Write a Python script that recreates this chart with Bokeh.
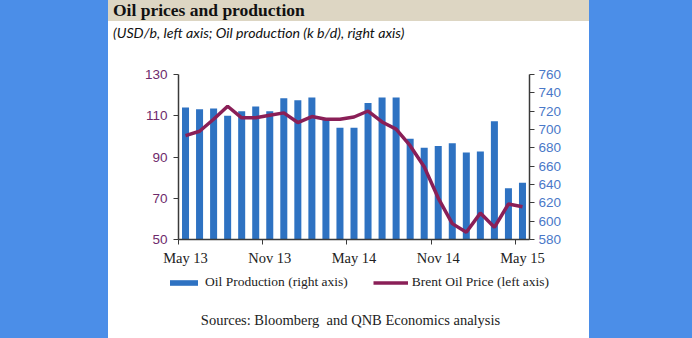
from bokeh.plotting import figure
from bokeh.models import (Range1d, LinearAxis, FixedTicker, Legend, LegendItem, Div)
from bokeh.layouts import row, column
from bokeh.embed import file_html
from bokeh.resources import INLINE

# ---------------- data ----------------
months = ["May 13", "Jun 13", "Jul 13", "Aug 13", "Sep 13", "Oct 13", "Nov 13",
          "Dec 13", "Jan 14", "Feb 14", "Mar 14", "Apr 14", "May 14", "Jun 14",
          "Jul 14", "Aug 14", "Sep 14", "Oct 14", "Nov 14", "Dec 14", "Jan 15",
          "Feb 15", "Mar 15", "Apr 15", "May 15"]
production = [724, 722, 723, 715, 720, 725, 720, 734, 732, 735, 712, 702, 702,
              729, 735, 735, 690, 680, 682, 685, 675, 676, 709, 636, 642]
brent = [100.4, 102.5, 108.3, 114.6, 109.0, 109.0, 110.2, 111.4, 106.7, 109.6,
         108.3, 108.3, 109.4, 112.3, 107.0, 103.5, 95.5, 85.3, 70.1, 57.7,
         53.5, 62.8, 55.9, 67.2, 65.9]
tick_months = ["May 13", "Nov 13", "May 14", "Nov 14", "May 15"]
left_ticks = [50, 70, 90, 110, 130]
right_ticks = [580, 600, 620, 640, 660, 680, 700, 720, 740, 760]

title_text = "Oil prices and production"
subtitle_text = "(USD/b, left axis; Oil production (k b/d), right axis)"
source_text = "Sources: Bloomberg&nbsp; and QNB Economics analysis"
prod_label = "Oil Production (right axis)"
brent_label = "Brent Oil Price (left axis)"

# ---------------- styles ----------------
BLUE_BG = "#4B8EE8"
BEIGE = "#DDD6C3"
BAR = "#2E72C2"
LINE = "#8A1F57"
LEFT_TXT = "#6E2A6C"
RIGHT_TXT = "#4A78C8"
AXIS = "#3A3A3A"

x = list(range(len(months)))
tick_pos = [months.index(m) for m in tick_months]

p = figure(width=481, height=223, output_backend="svg", toolbar_location=None,
           x_range=Range1d(-0.5, len(months) - 0.5), y_range=Range1d(50, 130),
           min_border_left=70, min_border_right=60, min_border_top=29,
           min_border_bottom=28)
p.outline_line_color = None
p.grid.grid_line_color = None
p.background_fill_color = "white"
p.border_fill_color = "white"

p.extra_y_ranges = {"prod": Range1d(580, 760)}

bars = p.vbar(x=x, top=production, bottom=580, width=0.5, y_range_name="prod",
              fill_color=BAR, line_color=None)
ln = p.line(x, brent, line_width=3.5, line_color=LINE)

# x axis
xa = p.xaxis[0]
xa.ticker = FixedTicker(ticks=tick_pos, minor_ticks=[t - 0.5 for t in tick_pos])
xa.major_label_overrides = {i: m for i, m in zip(tick_pos, tick_months)}
xa.major_tick_line_color = None
xa.major_tick_out = 4
xa.major_label_standoff = 5
xa.minor_tick_in = 0
xa.minor_tick_out = 5
xa.minor_tick_line_color = AXIS
xa.axis_line_color = AXIS
xa.axis_line_width = 1.5
xa.major_label_text_font = "Liberation Serif"
xa.major_label_text_font_size = "14.5px"
xa.major_label_text_color = "#222222"

# left axis
ya = p.yaxis[0]
ya.ticker = FixedTicker(ticks=left_ticks)
ya.minor_tick_line_color = None
ya.major_tick_in = 0
ya.major_tick_out = 5
ya.major_tick_line_color = AXIS
ya.axis_line_color = AXIS
ya.axis_line_width = 1.5
ya.major_label_text_font = "Liberation Sans"
ya.major_label_text_font_size = "13.5px"
ya.major_label_text_color = LEFT_TXT
ya.major_label_standoff = 6

# right axis
ra = LinearAxis(y_range_name="prod", ticker=FixedTicker(ticks=right_ticks))
ra.minor_tick_line_color = None
ra.major_tick_in = 0
ra.major_tick_out = 5
ra.major_tick_line_color = AXIS
ra.axis_line_color = AXIS
ra.axis_line_width = 1.5
ra.major_label_text_font = "Liberation Sans"
ra.major_label_text_font_size = "13.5px"
ra.major_label_text_color = RIGHT_TXT
ra.major_label_standoff = 4
p.add_layout(ra, "right")

# legend strip: its own small figure; swatch renderers carry the same series
# but are hidden, so only their legend entries show
pl = figure(width=481, height=32, output_backend="svg", toolbar_location=None,
            x_range=Range1d(-0.5, len(months) - 0.5), y_range=Range1d(0, 1),
            x_axis_location=None, y_axis_location=None,
            min_border_left=0, min_border_right=0, min_border_top=0,
            min_border_bottom=0)
if "frame_align" in pl.properties():
    pl.frame_align = False
pl.outline_line_color = None
pl.grid.grid_line_color = None
pl.border_fill_color = "white"
sw_bar = pl.vbar(x=x, top=production, width=0.5, fill_color=BAR, line_color=None,
                 visible=False)
sw_line = pl.line(x, brent, line_width=3.5, line_color=LINE, visible=False)
lg = Legend(items=[LegendItem(label=prod_label, renderers=[sw_bar]),
                   LegendItem(label=brent_label, renderers=[sw_line])],
            orientation="horizontal", location=(58, 10), click_policy="none",
            border_line_color=None, background_fill_alpha=0,
            padding=0, margin=0, spacing=25, glyph_width=35, glyph_height=7,
            label_standoff=4, label_height=16, label_text_font="Liberation Serif",
            label_text_font_size="13.5px", label_text_color="#222222")
pl.add_layout(lg, "center")

title_div = Div(width=481, height=21, margin=0,
                styles={"background-color": BEIGE},
                text=('<div style="font-family:\'Liberation Serif\';font-weight:bold;'
                      'font-size:17.5px;line-height:21px;padding-left:5px;color:#111;'
                      'white-space:nowrap;">' + title_text + '</div>'))
sub_div = Div(width=481, height=24, margin=0,
              styles={"background-color": "white"},
              text=('<div style="font-family:\'Lato\';font-style:italic;'
                    'font-size:14.2px;line-height:24px;padding-left:5px;color:#111;'
                    'white-space:nowrap;">' + subtitle_text + '</div>'))
src_div = Div(width=481, height=38, margin=0,
              styles={"background-color": "white"},
              text=('<div style="font-family:\'Liberation Serif\';font-size:14.5px;'
                    'line-height:40px;width:485px;text-align:center;'
                    'color:#222;white-space:nowrap;">' + source_text + '</div>'))

left_div = Div(width=108, height=338, margin=0, styles={"background-color": BLUE_BG})
right_div = Div(width=103, height=338, margin=0, styles={"background-color": BLUE_BG})

mid = column(title_div, sub_div, p, pl, src_div, spacing=0)
layout = row(left_div, mid, right_div, spacing=0)

open("out.html", "w").write(file_html(layout, INLINE))
